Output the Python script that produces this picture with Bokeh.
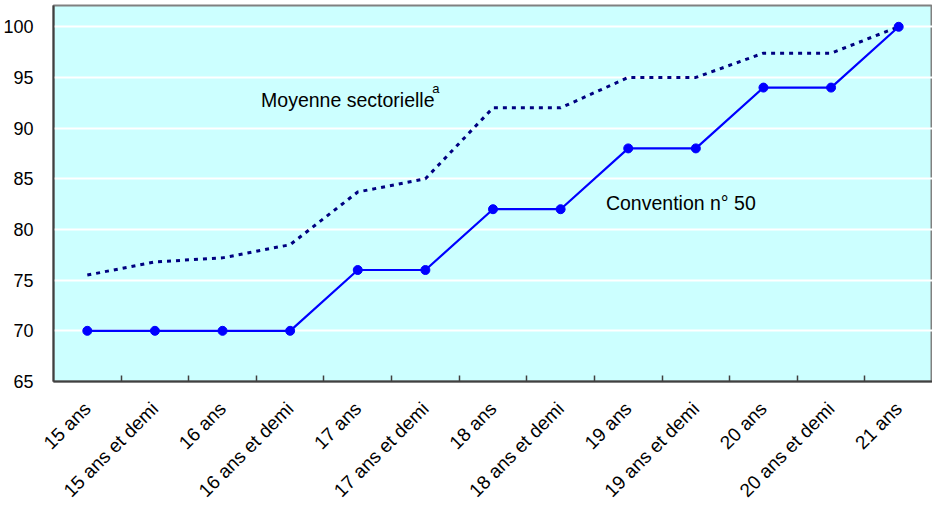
import math
from bokeh.plotting import figure
from bokeh.models import FixedTicker, Range1d, ColumnDataSource
from bokeh.core.properties import value
from bokeh.embed import file_html
from bokeh.resources import INLINE

categories = ["15 ans", "15 ans et demi", "16 ans", "16 ans et demi", "17 ans",
              "17 ans et demi", "18 ans", "18 ans et demi", "19 ans",
              "19 ans et demi", "20 ans", "20 ans et demi", "21 ans"]
convention = [70, 70, 70, 70, 76, 76, 82, 82, 88, 88, 94, 94, 100]
moyenne = [75.5, 76.8, 77.2, 78.5, 83.7, 85.0, 92.0, 92.0, 95.0, 95.0, 97.4, 97.4, 100]
y_ticks = [65, 70, 75, 80, 85, 90, 95, 100]

FONT = "Liberation Sans"
xs = list(range(len(categories)))
src = ColumnDataSource(dict(x=xs, conv=convention, moy=moyenne))

p = figure(width=932, height=511, output_backend="svg", toolbar_location=None,
           x_range=Range1d(-0.5, len(categories) - 0.5), y_range=Range1d(65, 102.1),
           min_border_left=45, min_border_right=0, min_border_top=5)
p.background_fill_color = "#CCFFFF"
p.border_fill_color = "white"
p.outline_line_color = "#808080"
p.outline_line_width = 2

p.xgrid.grid_line_color = None
p.ygrid.grid_line_color = "white"
p.ygrid.grid_line_width = 2
p.ygrid.ticker = FixedTicker(ticks=y_ticks)

p.line("x", "moy", source=src, line_color="#000080", line_width=3, line_dash="4 5")
p.line("x", "conv", source=src, line_color="#0000FF", line_width=2.2)
p.scatter("x", "conv", source=src, size=9, fill_color="#0000FF", line_color="#0000FF")

p.text(x=[2.57], y=[92.8], text=["Moyenne sectorielle"], text_font=value(FONT),
       text_font_size="19.5px", text_color="black", text_baseline="middle", text_align="left")
p.text(x=[5.1], y=[93.9], text=["a"], text_font=value(FONT),
       text_font_size="13px", text_color="black", text_baseline="middle", text_align="left")
p.text(x=[7.67], y=[82.6], text=["Convention n° 50"], text_font=value(FONT),
       text_font_size="19.5px", text_color="black", text_baseline="middle", text_align="left")

xa = p.xaxis[0]
xa.ticker = FixedTicker(ticks=xs, minor_ticks=[i + 0.5 for i in xs[:-1]])
xa.major_label_overrides = {i: c for i, c in zip(xs, categories)}
xa.major_label_orientation = math.pi / 4
xa.major_tick_line_color = None
xa.minor_tick_in = 6
xa.minor_tick_out = 0
xa.minor_tick_line_color = "#404040"
xa.minor_tick_line_width = 1.5
xa.axis_line_color = "#404040"
xa.axis_line_width = 2
xa.major_label_text_font = FONT
xa.major_label_text_font_size = "19px"
xa.major_label_text_color = "black"
xa.major_label_standoff = 18

ya = p.yaxis[0]
ya.ticker = FixedTicker(ticks=y_ticks)
ya.major_tick_line_color = None
ya.minor_tick_line_color = None
ya.axis_line_color = "#404040"
ya.axis_line_width = 2
ya.major_label_text_font = FONT
ya.major_label_text_font_size = "18px"
ya.major_label_text_color = "black"
ya.major_label_standoff = 14

open("out.html", "w").write(file_html(p, INLINE))
